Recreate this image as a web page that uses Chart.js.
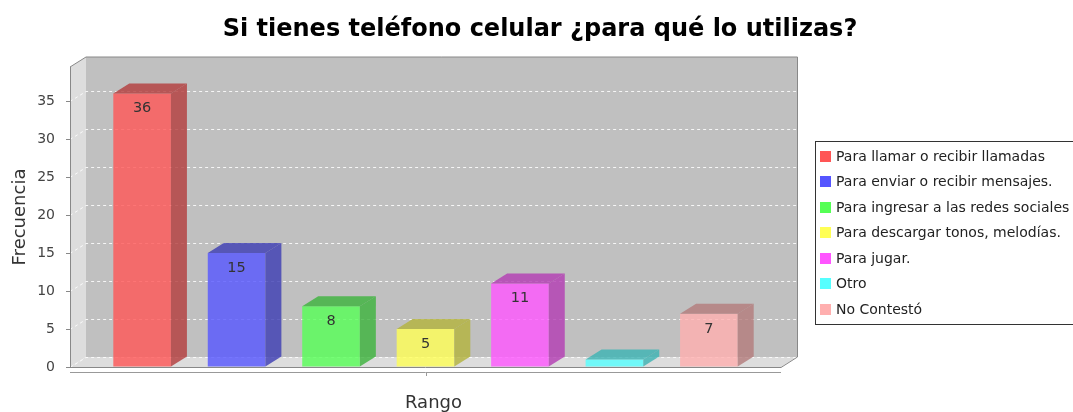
<!DOCTYPE html>
<html>
<head>
<meta charset="utf-8">
<script src="https://cdn.jsdelivr.net/npm/chart.js@4.4.0/dist/chart.umd.min.js"></script>
<style>
  html, body { margin: 0; padding: 0; background: #fff; }
</style>
</head>
<body>
<canvas id="grafico" width="1073" height="412"></canvas>
<script>
// Datos de la encuesta
const titulo = 'Si tienes teléfono celular ¿para qué lo utilizas?';
const categorias = [
  'Para llamar o recibir llamadas',
  'Para enviar o recibir mensajes.',
  'Para ingresar a las redes sociales',
  'Para descargar tonos, melodías.',
  'Para jugar.',
  'Otro',
  'No Contestó'
];
const frecuencias = [36, 15, 8, 5, 11, 1, 7];
const colores = [
  [255, 85, 85],
  [85, 85, 255],
  [85, 255, 85],
  [255, 255, 85],
  [255, 85, 255],
  [85, 255, 255],
  [255, 175, 175]
];
const ticksY = [0, 5, 10, 15, 20, 25, 30, 35];
const etiquetaX = 'Rango';

const FUENTE = "'DejaVu Sans', sans-serif";
const DX = 16, DY = 10;

function rgba(c, f, a) {
  return `rgba(${Math.round(c[0] * f)},${Math.round(c[1] * f)},${Math.round(c[2] * f)},${a})`;
}

// Paredes, piso y rejilla del gráfico 3D
const efecto3D = {
  id: 'efecto3D',
  beforeDraw(chart) {
    const { ctx, chartArea: a } = chart;
    const y = chart.scales.y;
    ctx.save();
    // pared izquierda
    ctx.fillStyle = '#dddddd';
    ctx.beginPath();
    ctx.moveTo(a.left, a.top);
    ctx.lineTo(a.left + DX, a.top - DY);
    ctx.lineTo(a.left + DX, a.bottom - DY);
    ctx.lineTo(a.left, a.bottom);
    ctx.closePath();
    ctx.fill();
    // piso
    ctx.beginPath();
    ctx.moveTo(a.left, a.bottom);
    ctx.lineTo(a.left + DX, a.bottom - DY);
    ctx.lineTo(a.right + DX, a.bottom - DY);
    ctx.lineTo(a.right, a.bottom);
    ctx.closePath();
    ctx.fill();
    // pared del fondo
    ctx.fillStyle = '#c0c0c0';
    ctx.fillRect(a.left + DX, a.top - DY, a.right - a.left, a.bottom - a.top);
    // rejilla punteada
    ctx.strokeStyle = 'rgba(255,255,255,0.85)';
    ctx.lineWidth = 1;
    ctx.setLineDash([3, 3]);
    ticksY.forEach((v) => {
      const py = Math.round(y.getPixelForValue(v)) + 0.5;
      ctx.beginPath();
      ctx.moveTo(a.left, py);
      ctx.lineTo(a.left + DX, py - DY);
      ctx.lineTo(a.right + DX, py - DY);
      ctx.stroke();
    });
    ctx.setLineDash([]);
    // contorno
    ctx.strokeStyle = '#888';
    ctx.beginPath();
    ctx.moveTo(a.left, a.top);
    ctx.lineTo(a.left + DX, a.top - DY);
    ctx.lineTo(a.right + DX + 0.5, a.top - DY);
    ctx.lineTo(a.right + DX + 0.5, a.bottom - DY);
    ctx.lineTo(a.right, a.bottom + 0.5);
    ctx.lineTo(a.left, a.bottom + 0.5);
    ctx.stroke();
    ctx.restore();
  },
  afterDatasetsDraw(chart) {
    const { ctx } = chart;
    ctx.save();
    chart.data.datasets.forEach((ds, i) => {
      const meta = chart.getDatasetMeta(i);
      meta.data.forEach((bar) => {
        const { x, y, base, width } = bar.getProps(['x', 'y', 'base', 'width'], true);
        const l = x - width / 2, r = x + width / 2;
        ctx.fillStyle = rgba(colores[i], 0.7, 0.8);
        // cara lateral
        ctx.beginPath();
        ctx.moveTo(r, y);
        ctx.lineTo(r + DX, y - DY);
        ctx.lineTo(r + DX, base - DY);
        ctx.lineTo(r, base);
        ctx.closePath();
        ctx.fill();
        // cara superior
        ctx.beginPath();
        ctx.moveTo(l, y);
        ctx.lineTo(l + DX, y - DY);
        ctx.lineTo(r + DX, y - DY);
        ctx.lineTo(r, y);
        ctx.closePath();
        ctx.fill();
        // valor dentro de la barra
        if (base - y > 20) {
          ctx.fillStyle = '#333';
          ctx.font = `14.5px ${FUENTE}`;
          ctx.textAlign = 'center';
          ctx.textBaseline = 'middle';
          ctx.fillText(String(ds.data[0]), x, y + 15);
        }
      });
    });
    ctx.restore();
  },
  afterDraw(chart) {
    const { ctx, chartArea: a } = chart;
    const xs = chart.scales.x;
    ctx.save();
    // título
    ctx.fillStyle = '#000';
    ctx.font = `bold 24px ${FUENTE}`;
    ctx.textAlign = 'center';
    ctx.textBaseline = 'middle';
    ctx.fillText(titulo, 540, 30);
    // eje de categorías
    ctx.strokeStyle = '#999';
    ctx.beginPath();
    ctx.moveTo(a.left, a.bottom + 5.5);
    ctx.lineTo(a.right, a.bottom + 5.5);
    const cx = Math.round(xs.getPixelForValue(0)) + 0.5;
    ctx.moveTo(cx, a.bottom + 5);
    ctx.lineTo(cx, a.bottom + 9);
    ctx.stroke();
    ctx.fillStyle = '#333';
    ctx.font = `18px ${FUENTE}`;
    ctx.fillText(etiquetaX, (a.left + a.right + DX) / 2, 403);
    // leyenda
    const lx = 815, ly = 141;
    ctx.fillStyle = '#fff';
    ctx.fillRect(lx, ly, 300, 183);
    ctx.strokeStyle = '#333';
    ctx.strokeRect(lx + 0.5, ly + 0.5, 300, 183);
    ctx.font = `14px ${FUENTE}`;
    ctx.textAlign = 'left';
    categorias.forEach((c, i) => {
      const cy = 156 + i * 25.5;
      ctx.fillStyle = rgba(colores[i], 1, 1);
      ctx.fillRect(lx + 5, Math.round(cy - 5.5), 11, 11);
      ctx.fillStyle = '#222';
      ctx.fillText(c, lx + 21, cy + 1);
    });
    ctx.restore();
  }
};

const datasets = categorias.map((c, i) => ({
  label: c,
  data: [frecuencias[i]],
  backgroundColor: rgba(colores[i], 1, 0.8),
  borderWidth: 0
}));

new Chart(document.getElementById('grafico'), {
  type: 'bar',
  data: { labels: [etiquetaX], datasets: datasets },
  options: {
    responsive: false,
    devicePixelRatio: 1,
    animation: false,
    layout: { padding: { left: 0, right: 292, top: 67, bottom: 45 } },
    datasets: { bar: { categoryPercentage: 0.93, barPercentage: 0.61 } },
    plugins: {
      legend: { display: false },
      tooltip: { enabled: false },
      title: { display: false }
    },
    scales: {
      x: { display: false },
      y: {
        min: 0,
        max: 39.5,
        afterFit(scale) { scale.width = 70; },
        afterBuildTicks(scale) { scale.ticks = ticksY.map((v) => ({ value: v })); },
        ticks: {
          includeBounds: false,
          color: '#444',
          padding: 11,
          font: { family: FUENTE, size: 14 }
        },
        grid: { drawOnChartArea: false, drawTicks: true, tickLength: 4, color: '#888' },
        border: { display: true, color: '#888' },
        title: {
          display: true,
          text: 'Frecuencia',
          color: '#333',
          font: { family: FUENTE, size: 18 },
          padding: { top: 10, bottom: 0 }
        }
      }
    }
  },
  plugins: [efecto3D]
});
</script>
</body>
</html>
